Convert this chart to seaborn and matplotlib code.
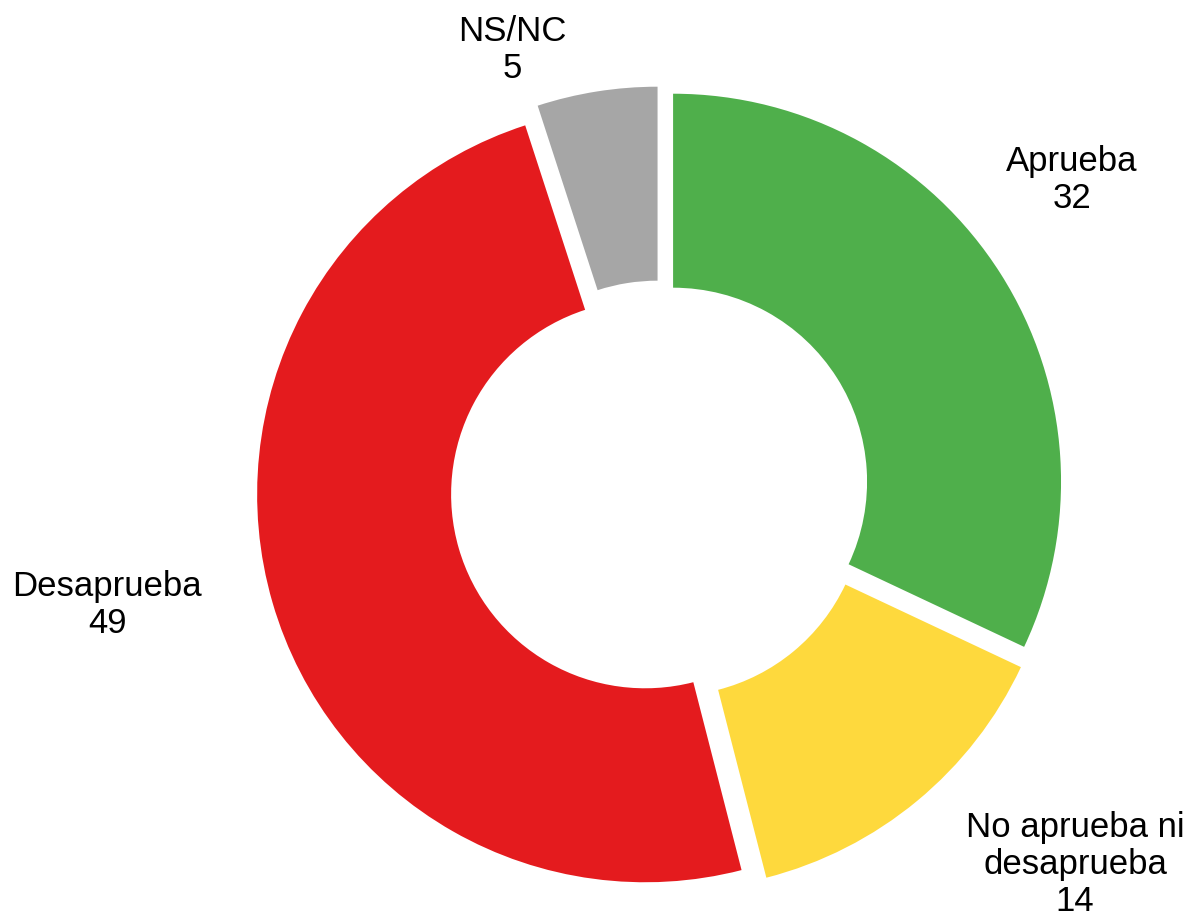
import pandas as pd
import seaborn as sns
import matplotlib.pyplot as plt

# data
categories = ["Aprueba", "No aprueba ni\ndesaprueba", "Desaprueba", "NS/NC"]
values = [32, 14, 49, 5]
colors = ["#4FAF4B", "#FED93D", "#E41B1E", "#A6A6A6"]

# label positions (in units of the outer radius)
label_pos = [(1.062, 0.799), (1.070, -0.966), (-1.425, -0.296), (-0.381, 1.134)]

sns.set_theme(style="white")
plt.rcParams['font.family'] = ['Liberation Sans', 'DejaVu Sans']

df = pd.DataFrame({"cat": categories, "val": values})

fig = plt.figure(figsize=(11.9, 9.21), dpi=100)
ax = fig.add_axes([0, 0, 1, 1])

ax.pie(df["val"], colors=colors, startangle=90, counterclock=False,
       explode=[0.04] * len(df), radius=1,
       wedgeprops=dict(width=0.5, edgecolor="none"))

for (x, y), cat, v in zip(label_pos, df["cat"], df["val"]):
    ax.text(x, y, f"{cat}\n{v}", ha="center", va="center",
            fontsize=25, color="black", linespacing=1.15)

ax.set_xlim(-1.701, 1.366)
ax.set_ylim(-1.111, 1.263)
ax.set_aspect("equal")
ax.axis("off")

fig.savefig("out.png", dpi=100)
